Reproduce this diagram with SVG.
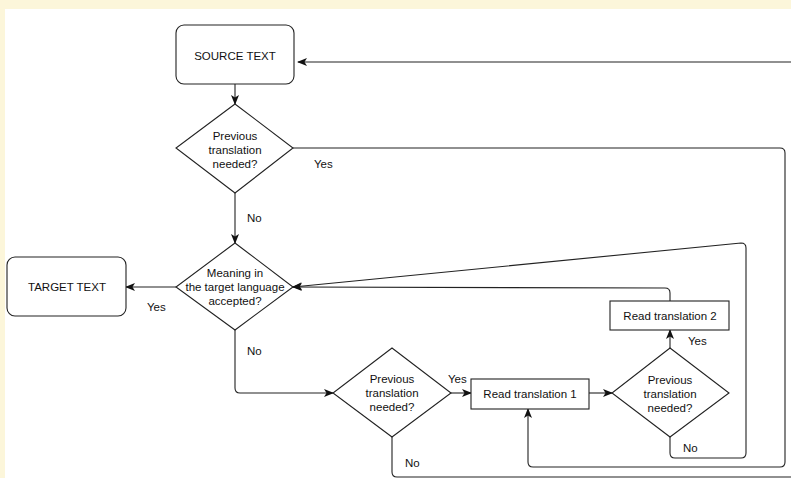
<svg xmlns="http://www.w3.org/2000/svg" width="791" height="478" viewBox="0 0 791 478">
  <defs>
    <marker id="arr" markerUnits="userSpaceOnUse" markerWidth="10" markerHeight="10" viewBox="0 0 10 8" refX="9" refY="4" orient="auto">
      <path d="M0,0 L10,4 L0,8 L2.5,4 z" fill="#111"/>
    </marker>
    <style>
      .box { fill: #fff; stroke: #222; stroke-width: 1.1; }
      .conn { fill: none; stroke: #222; stroke-width: 1.1; }
      text { font-family: "Liberation Sans", Arial, sans-serif; font-size: 11.5px; fill: #111; }
      .c { text-anchor: middle; }
    </style>
  </defs>
  <rect x="0" y="0" width="791" height="478" fill="#fff"/>
  <rect x="0" y="0" width="791" height="9" fill="#fcf6da"/>
  <rect x="0" y="0" width="5" height="478" fill="#fcf6da"/>

  <g id="connectors">
    <path class="conn" d="M791,62 L298,62" marker-end="url(#arr)"/>
    <path class="conn" d="M235,84 L235,104" marker-end="url(#arr)"/>
    <path class="conn" d="M235,193 L235,243" marker-end="url(#arr)"/>
    <path class="conn" d="M293,148 L780,148 Q785,148 785,153 L785,462 Q785,467 780,467 L533,467 Q528,467 528,462 L528,409" marker-end="url(#arr)"/>
    <path class="conn" d="M176,287 L126,287" marker-end="url(#arr)"/>
    <path class="conn" d="M235,330 L235,388 Q235,393 240,393 L333,393" marker-end="url(#arr)"/>
    <path class="conn" d="M451,393 L471,393" marker-end="url(#arr)"/>
    <path class="conn" d="M589,393 L612,393" marker-end="url(#arr)"/>
    <path class="conn" d="M670,348 L670,330" marker-end="url(#arr)"/>
    <path class="conn" d="M670,301 L670,293 Q670,288 665,288 L293,287" marker-end="url(#arr)"/>
    <path class="conn" d="M670,437 L670,453 Q670,458 675,458 L741,458 Q746,458 746,453 L746,248 Q746,243 741,243 L293,287" marker-end="url(#arr)"/>
    <path class="conn" d="M392,437 L392,472 Q392,477 397,477 L791,477"/>
    <text x="314" y="168">Yes</text>
    <text x="247" y="222">No</text>
    <text x="147" y="311">Yes</text>
    <text x="247" y="355">No</text>
    <text x="448" y="383">Yes</text>
    <text x="688" y="345">Yes</text>
    <text x="683" y="452">No</text>
    <text x="405" y="467">No</text>
  </g>

  <g id="source">
    <rect class="box" x="176" y="25" width="118" height="59" rx="8"/>
    <text class="c" x="235" y="60">SOURCE TEXT</text>
  </g>
  <g id="decision1">
    <polygon class="box" points="235,104 293,148 235,193 176,148"/>
    <text class="c" x="235" y="140">Previous</text>
    <text class="c" x="235" y="154">translation</text>
    <text class="c" x="235" y="168">needed?</text>
  </g>
  <g id="meaning">
    <polygon class="box" points="235,243 293,287 235,330 176,287"/>
    <text class="c" x="235" y="277">Meaning in</text>
    <text class="c" x="235" y="291">the target language</text>
    <text class="c" x="235" y="305">accepted?</text>
  </g>
  <g id="target">
    <rect class="box" x="7" y="257" width="119" height="59" rx="8"/>
    <text class="c" x="67" y="291">TARGET TEXT</text>
  </g>
  <g id="decision2">
    <polygon class="box" points="392,348 451,393 392,437 333,393"/>
    <text class="c" x="392" y="383">Previous</text>
    <text class="c" x="392" y="397">translation</text>
    <text class="c" x="392" y="411">needed?</text>
  </g>
  <g id="read1">
    <rect class="box" x="471" y="379" width="118" height="30"/>
    <text class="c" x="530" y="398">Read translation 1</text>
  </g>
  <g id="decision3">
    <polygon class="box" points="670,348 729,393 670,437 612,393"/>
    <text class="c" x="670" y="384">Previous</text>
    <text class="c" x="670" y="398">translation</text>
    <text class="c" x="670" y="412">needed?</text>
  </g>
  <g id="read2">
    <rect class="box" x="610" y="301" width="119" height="29"/>
    <text class="c" x="670" y="320">Read translation 2</text>
  </g>
</svg>
